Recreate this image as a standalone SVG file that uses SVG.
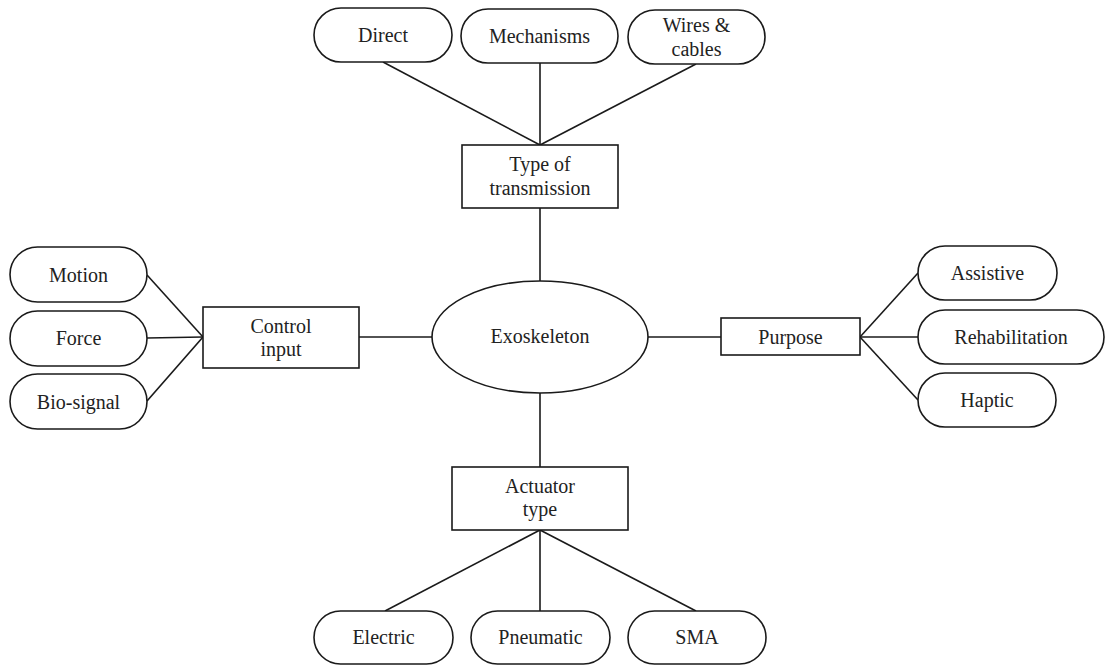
<svg xmlns="http://www.w3.org/2000/svg" width="1106" height="666" viewBox="0 0 1106 666">
  <style>
    .shape { fill: #ffffff; stroke: #1a1a1a; stroke-width: 1.6; }
    .link { stroke: #1a1a1a; stroke-width: 1.6; fill: none; }
    text { font-family: "Liberation Serif", "Times New Roman", serif; font-size: 20px; fill: #222222; text-anchor: middle; }
  </style>
  <rect width="1106" height="666" fill="#ffffff"/>

  <!-- connectors -->
  <g id="connectors">
    <line class="link" x1="383" y1="62" x2="540" y2="145"/>
    <line class="link" x1="540" y1="63" x2="540" y2="145"/>
    <line class="link" x1="696" y1="64" x2="540" y2="145"/>
    <line class="link" x1="540" y1="208" x2="540" y2="281"/>
    <line class="link" x1="147" y1="275" x2="203" y2="337"/>
    <line class="link" x1="147" y1="338" x2="203" y2="337"/>
    <line class="link" x1="147" y1="401" x2="203" y2="337"/>
    <line class="link" x1="359" y1="337" x2="432" y2="337"/>
    <line class="link" x1="648" y1="337" x2="721" y2="337"/>
    <line class="link" x1="860" y1="337" x2="918" y2="273"/>
    <line class="link" x1="860" y1="337" x2="918" y2="337"/>
    <line class="link" x1="860" y1="337" x2="918" y2="400"/>
    <line class="link" x1="540" y1="393" x2="540" y2="467"/>
    <line class="link" x1="540" y1="530" x2="385" y2="611"/>
    <line class="link" x1="540" y1="530" x2="540" y2="611"/>
    <line class="link" x1="540" y1="530" x2="696" y2="611"/>
  </g>

  <!-- centre -->
  <g id="exoskeleton">
    <ellipse class="shape" cx="540" cy="337" rx="108" ry="56"/>
    <text x="540" y="343">Exoskeleton</text>
  </g>

  <!-- category boxes -->
  <g id="type-of-transmission">
    <rect class="shape" x="462" y="145" width="156" height="63"/>
    <text x="540" y="171">Type of</text>
    <text x="540" y="195">transmission</text>
  </g>
  <g id="control-input">
    <rect class="shape" x="203" y="307" width="156" height="61"/>
    <text x="281" y="333">Control</text>
    <text x="281" y="356">input</text>
  </g>
  <g id="purpose">
    <rect class="shape" x="721" y="318" width="139" height="37"/>
    <text x="790.5" y="344">Purpose</text>
  </g>
  <g id="actuator-type">
    <rect class="shape" x="452" y="467" width="176" height="63"/>
    <text x="540" y="493">Actuator</text>
    <text x="540" y="516">type</text>
  </g>

  <!-- transmission options -->
  <g id="direct">
    <rect class="shape" x="314" y="8" width="138" height="54" rx="27"/>
    <text x="383" y="42">Direct</text>
  </g>
  <g id="mechanisms">
    <rect class="shape" x="461" y="9" width="157" height="54" rx="27"/>
    <text x="539.5" y="43">Mechanisms</text>
  </g>
  <g id="wires-cables">
    <rect class="shape" x="628" y="10" width="137" height="54" rx="27"/>
    <text x="696.5" y="32">Wires &amp;</text>
    <text x="696.5" y="56">cables</text>
  </g>

  <!-- control input options -->
  <g id="motion">
    <rect class="shape" x="10" y="247" width="137" height="55" rx="27.5"/>
    <text x="78.5" y="282">Motion</text>
  </g>
  <g id="force">
    <rect class="shape" x="10" y="311" width="137" height="55" rx="27.5"/>
    <text x="78.5" y="345">Force</text>
  </g>
  <g id="bio-signal">
    <rect class="shape" x="10" y="374" width="137" height="55" rx="27.5"/>
    <text x="78.5" y="409">Bio-signal</text>
  </g>

  <!-- purpose options -->
  <g id="assistive">
    <rect class="shape" x="918" y="246" width="139" height="54" rx="27"/>
    <text x="987.5" y="280">Assistive</text>
  </g>
  <g id="rehabilitation">
    <rect class="shape" x="918" y="310" width="186" height="54" rx="27"/>
    <text x="1011" y="344">Rehabilitation</text>
  </g>
  <g id="haptic">
    <rect class="shape" x="918" y="373" width="138" height="54" rx="27"/>
    <text x="987" y="407">Haptic</text>
  </g>

  <!-- actuator options -->
  <g id="electric">
    <rect class="shape" x="314" y="611" width="139" height="53" rx="26.5"/>
    <text x="383.5" y="644">Electric</text>
  </g>
  <g id="pneumatic">
    <rect class="shape" x="471" y="611" width="139" height="53" rx="26.5"/>
    <text x="540.5" y="644">Pneumatic</text>
  </g>
  <g id="sma">
    <rect class="shape" x="628" y="611" width="138" height="53" rx="26.5"/>
    <text x="697" y="644">SMA</text>
  </g>
</svg>
